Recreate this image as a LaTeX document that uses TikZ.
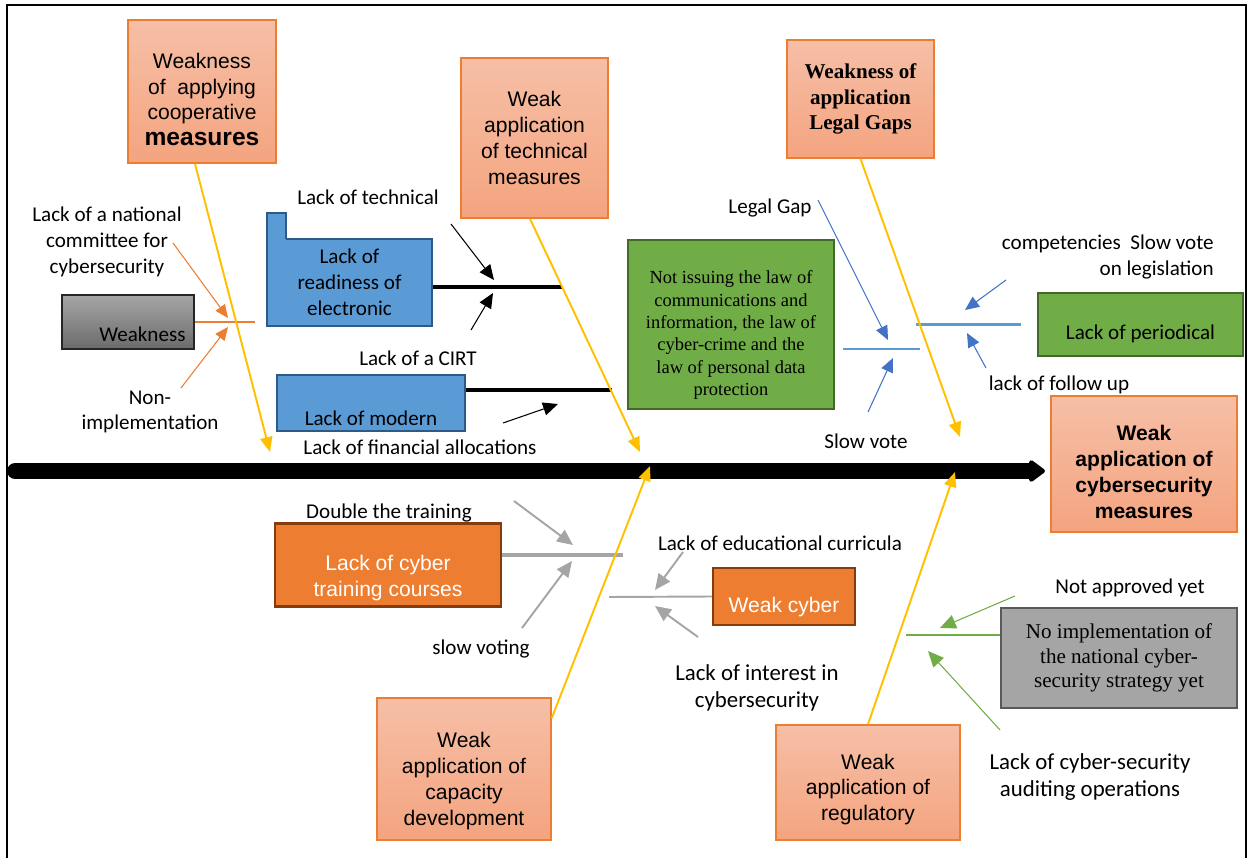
\documentclass[tikz,border=0pt]{standalone}
\usepackage{fontspec}
\setmainfont{Carlito}
\newfontfamily\arialfont{Liberation Sans}
\newfontfamily\timesfont{Liberation Serif}
\usepackage{xcolor}
\usepackage{tikz}
\usetikzlibrary{arrows.meta, positioning}
\definecolor{salmtop}{HTML}{F6BFA7}
\definecolor{salmbot}{HTML}{F4A47F}
\definecolor{orgline}{HTML}{ED7D31}
\definecolor{ylw}{HTML}{FFC000}
\definecolor{bluefill}{HTML}{5B9BD5}
\definecolor{blueline}{HTML}{2E5A88}
\definecolor{bluearr}{HTML}{4472C4}
\definecolor{grnfill}{HTML}{70AD47}
\definecolor{grnline}{HTML}{42682A}
\definecolor{brnline}{HTML}{843C0C}
\definecolor{gryfill}{HTML}{A5A5A5}
\definecolor{gryline}{HTML}{595959}
\definecolor{wktop}{HTML}{A6A6A6}
\definecolor{wkbot}{HTML}{6B6B6B}

\begin{document}
\begin{tikzpicture}[x=0.02cm, y=-0.02cm,
catbox/.style={rectangle, draw=orgline, line width=0.9pt, top color=salmtop, bottom color=salmbot, align=center,
font=\arialfont\fontsize{12}{14.7}\selectfont}, bluebox/.style={rectangle, fill=bluefill, draw=blueline, line
width=1.2pt, align=center, font=\fontsize{12}{14.7}\selectfont}, grnbox/.style={rectangle, fill=grnfill,
draw=grnline, line width=1.6pt, align=center, font=\fontsize{12}{14.7}\selectfont}, orgbox/.style={rectangle,
fill=orgline, draw=brnline, line width=1.4pt, align=center, text=white, font=\arialfont\fontsize{12}{14.7}\selectfont},
grybox/.style={rectangle, fill=gryfill, draw=gryline, line width=1.6pt, align=center,
font=\timesfont\fontsize{12}{13.9}\selectfont}, lbl/.style={align=center, inner sep=0pt,
font=\fontsize{12}{14.7}\selectfont}, biglbl/.style={lbl, font=\fontsize{13}{15.3}\selectfont},
spine/.style={-{Triangle[length=10pt, width=14pt, round]}, line width=9pt, line cap=round, black},
yarr/.style={-{Triangle[length=8.5pt, width=7pt]}, line width=1.1pt, ylw},
oarr/.style={-{Triangle[length=7.5pt, width=6.5pt]}, line width=0.6pt, orgline},
karr/.style={-{Triangle[length=8.5pt, width=7.5pt]}, line width=0.6pt, black},
barr/.style={-{Triangle[length=8pt, width=7pt]}, line width=0.6pt, bluearr},
garr/.style={-{Triangle[length=9pt, width=8pt]}, line width=1.1pt, gryfill},
gnarr/.style={-{Triangle[length=9pt, width=8pt]}, line width=0.6pt, grnfill} ]
\useasboundingbox (0,0) rectangle (1249,858);
\draw[line width=1.4pt] (7,858) -- (7,5) -- (1246,5) -- (1246,858);
% heads of the bones
\node[catbox, minimum width=2.96cm, minimum height=2.86cm, text height=61.8pt] (coop) at (202,91.5)
{Weakness\\of~ applying\\cooperative\\{\bfseries\fontsize{14}{17}\selectfont measures}};
\node[catbox, minimum width=2.94cm, minimum height=3.2cm] (tech) at (534.5,138)
{Weak\\application\\of technical\\measures};
\node[catbox, minimum width=2.94cm, minimum height=2.36cm, font=\timesfont\bfseries\fontsize{12}{14.7}\selectfont]
(legal) at (860.5,99) {Weakness of\\application\\Legal Gaps};
\node[catbox, minimum width=3.72cm, minimum height=2.72cm, text height=61.8pt,
font=\arialfont\bfseries\fontsize{12}{14.7}\selectfont] (effect) at (1144,464)
{Weak\\application of\\cybersecurity\\measures};
\node[catbox, minimum width=3.48cm, minimum height=2.84cm, text height=66.3pt] (capacity) at (464,769)
{Weak\\application of\\capacity\\development};
\node[catbox, minimum width=3.68cm, minimum height=2.3cm, text height=46pt] (regul) at (868,782.5)
{Weak\\application of\\regulatory};
% spine
\coordinate (tail) at (15,471);
\draw[spine, shorten >=3pt] (tail) -- (tail -| effect.west);
% cooperative branch
\node[rectangle, draw=black!85, line width=1pt, top color=wktop, bottom color=wkbot, align=right, text width=2.3cm,
minimum width=2.64cm, minimum height=1.08cm, text height=22pt, font=\fontsize{12}{14.7}\selectfont] (weak) at (128,322)
{Weakness};
\coordinate (ob) at (255,322);
\draw[orgline, line width=1.1pt] (weak.east) -- (ob);
\node[lbl] (natcom) at (107,242) {Lack of a national\\committee for\\cybersecurity};
\node[lbl] (nonimp) at (150,412) {Non-\\implementation};
\coordinate (oa1) at (173,243); \coordinate (oa1e) at (228,318);
\coordinate (oa2) at (181,388); \coordinate (oa2e) at (228,327);
\draw[oarr] (oa1) -- (oa1e);
\draw[oarr] (oa2) -- (oa2e);
% technical branch
\node[bluebox, minimum width=3.3cm, minimum height=1.74cm] (readiness) at (349.5,282.5)
{Lack of\\readiness of\\electronic};
\fill[bluefill] (267,213) rectangle (286,241);
\draw[blueline, line width=1.2pt] (267,241) -- (267,213) -- (286,213) -- (286,239);
\coordinate (kb1) at (562,287);
\draw[line width=2pt] (kb1 -| readiness.east) -- (kb1);
\node[lbl] (techlbl) at (368,197) {Lack of technical};
\node[lbl] (cirt) at (418,358) {Lack of a CIRT};
\coordinate (ka1) at (451,224); \coordinate (ka1e) at (494,280);
\coordinate (ka2) at (471,330); \coordinate (ka2e) at (493,293);
\draw[karr] (ka1) -- (ka1e);
\draw[karr] (ka2) -- (ka2e);
\node[bluebox, minimum width=3.76cm, minimum height=1.08cm, text height=25.4pt] (modern) at (371,403) {Lack of modern};
\coordinate (kb2) at (612,390);
\draw[line width=2pt] (kb2 -| modern.east) -- (kb2);
\node[lbl] (finance) at (420,447) {Lack of financial allocations};
\coordinate (ka3) at (503,423); \coordinate (ka3e) at (558,404);
\draw[karr] (ka3) -- (ka3e);
% legal branch
\node[grnbox, minimum width=4.12cm, minimum height=3.38cm, text height=83.1pt,
font=\timesfont\fontsize{10.5}{12.7}\selectfont] (law) at (731,324.5)
{Not issuing the law of\\communications and\\information, the law of\\cyber-crime and the\\law of
personal data\\protection};
\coordinate (lb1) at (920,349);
\draw[bluefill, line width=1.2pt, shorten <=4.5pt] (law.east |- lb1) -- (lb1);
\node[lbl] (legalgap) at (770,208) {Legal Gap};
\node[lbl] (slowvote) at (866,441) {Slow vote};
\coordinate (ba1) at (818,200); \coordinate (ba1e) at (888,340);
\coordinate (ba2) at (868,412); \coordinate (ba2e) at (893,358);
\draw[barr] (ba1) -- (ba1e);
\draw[barr] (ba2) -- (ba2e);
\node[grnbox, minimum width=4.1cm, minimum height=1.26cm, text height=18.6pt] (periodic) at (1140.5,324.5)
{Lack of periodical};
\coordinate (lb2) at (916,324.5);
\draw[bluefill, line width=2.2pt, shorten >=9pt] (lb2) -- (periodic.west);
\node[lbl, anchor=east, align=right] (compet) at (1214,257) {competencies\ \ Slow vote\\on legislation};
\node[lbl] (follow) at (1059,385) {lack of follow up};
\coordinate (ba3) at (1006,280); \coordinate (ba3e) at (965,310);
\coordinate (ba4) at (986,368); \coordinate (ba4e) at (967,333);
\draw[barr] (ba3) -- (ba3e);
\draw[barr] (ba4) -- (ba4e);
% capacity branch
\node[orgbox, minimum width=4.52cm, minimum height=1.6cm, text height=38.1pt] (training) at (388,565)
{Lack of cyber\\training courses};
\coordinate (gb1) at (623,555);
\draw[gryfill, line width=1.9pt] (gb1 -| training.east) -- (gb1);
\node[lbl] (double) at (389,513) {Double the training};
\node[lbl] (slowvoting) at (481,649) {slow voting};
\coordinate (ga1) at (514,501); \coordinate (ga1e) at (573,545);
\coordinate (ga2) at (522,628); \coordinate (ga2e) at (572,561);
\draw[garr] (ga1) -- (ga1e);
\draw[garr] (ga2) -- (ga2e);
\node[orgbox, minimum width=2.84cm, minimum height=1.14cm, text height=21.1pt] (weakcyber) at (784,596.5) {Weak cyber};
\coordinate (gb2) at (609,597);
\draw[gryfill, line width=1.1pt] (gb2) -- (weakcyber.west);
\node[lbl] (curric) at (780,543) {Lack of educational curricula};
\node[biglbl] (interest) at (757,688) {Lack of interest in\\cybersecurity};
\coordinate (ga3) at (683,552); \coordinate (ga3e) at (655,590);
\coordinate (ga4) at (698,637); \coordinate (ga4e) at (655,606);
\draw[garr] (ga3) -- (ga3e);
\draw[garr] (ga4) -- (ga4e);
% regulatory branch
\node[grybox, minimum width=4.72cm, minimum height=2cm] (strategy) at (1119,658)
{No implementation of\\the national cyber-\\security strategy yet};
\coordinate (gnb) at (906,635);
\draw[grnfill, line width=1.2pt] (gnb) -- (gnb -| strategy.west);
\node[lbl] (approved) at (1130,588) {Not approved yet};
\node[biglbl] (audit) at (1090,777) {Lack of cyber-security\\auditing operations};
\coordinate (na1) at (1015,596); \coordinate (na1e) at (940,628);
\coordinate (na2) at (1000,730); \coordinate (na2e) at (928,651);
\draw[gnarr] (na1) -- (na1e);
\draw[gnarr] (na2) -- (na2e);
% bones into the spine
\coordinate (y1) at (270,452);
\coordinate (y2) at (640,452);
\coordinate (y3) at (960,437);
\coordinate (y4) at (650,466);
\coordinate (y5) at (955,472);
\draw[yarr] (coop.south -| 195,0) -- (y1);
\draw[yarr] (tech.south -| 530,0) -- (y2);
\draw[yarr] (legal.south) -- (y3);
\draw[yarr] (capacity.east |- 0,718) -- (y4);
\draw[yarr] (regul.north) -- (y5);
\end{tikzpicture}
\end{document}
